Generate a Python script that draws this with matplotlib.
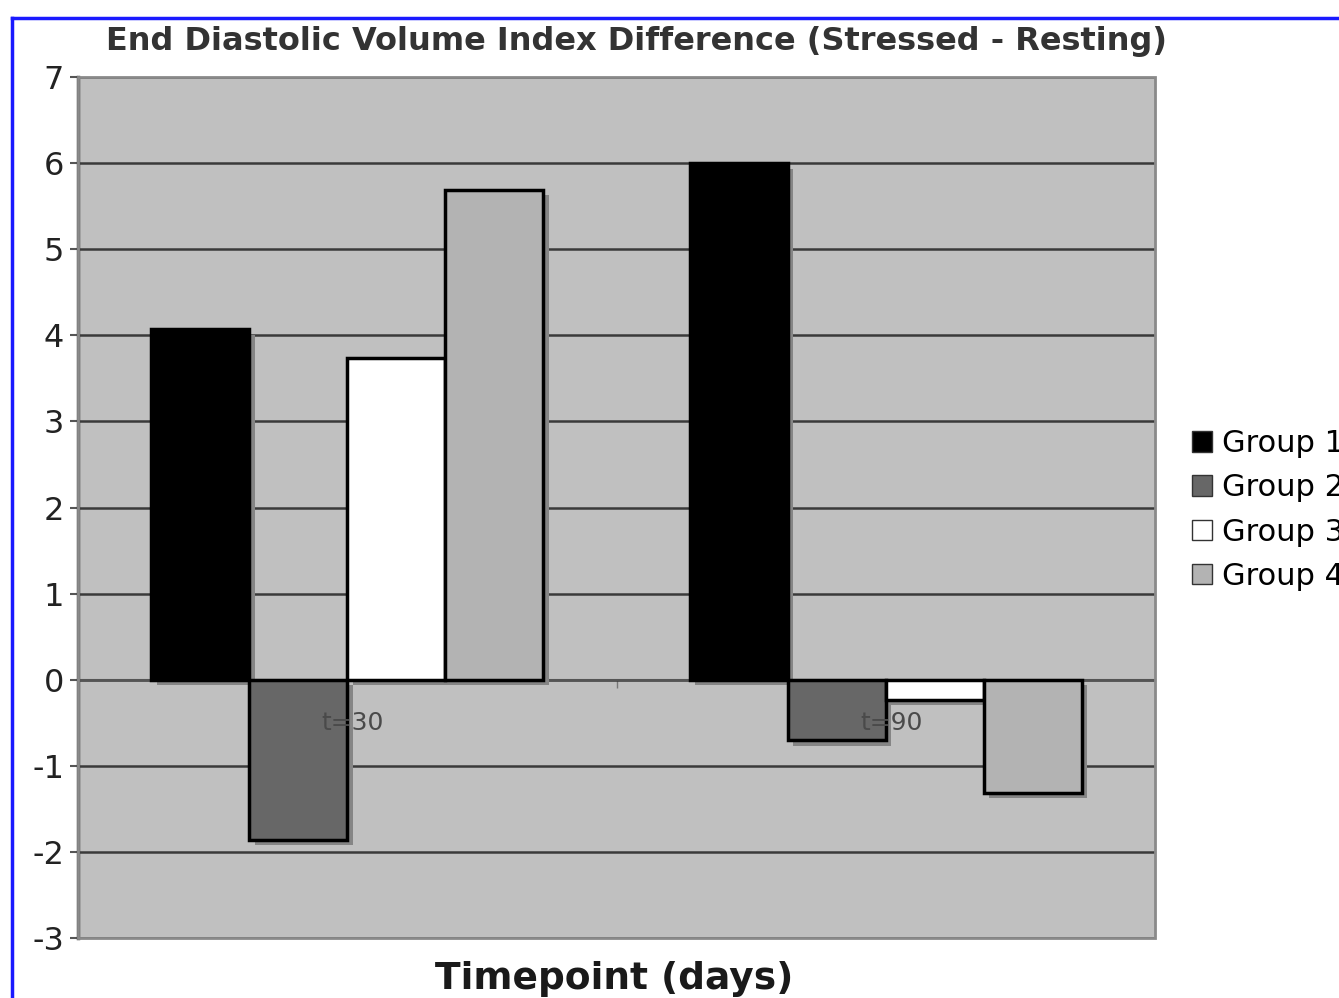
import matplotlib
matplotlib.use("Agg")
import matplotlib.pyplot as plt
import matplotlib.patheffects as pe
from matplotlib.patches import Rectangle
from matplotlib.lines import Line2D
import numpy as np

categories = ["t=30", "t=90"]
groups = ["Group 1", "Group 2", "Group 3", "Group 4"]
group1 = [4.07, 6.0]
group2 = [-1.86, -0.70]
group3 = [3.74, -0.23]
group4 = [5.69, -1.31]
series = [group1, group2, group3, group4]
colors = ["#000000", "#676767", "#ffffff", "#b3b3b3"]
yticks = [-3, -2, -1, 0, 1, 2, 3, 4, 5, 6, 7]

plt.rcParams['font.family'] = ['DejaVu Sans']

fig = plt.figure(figsize=(13.39, 9.98), dpi=100)
ax = fig.add_axes([0.0583, 0.0601, 0.8043, 0.8627])
ax.set_facecolor("#c0c0c0")

x = np.arange(len(categories))
w = 0.182
shadow = [pe.SimplePatchShadow(offset=(4.0, -4.0), shadow_rgbFace="#858585", alpha=1.0), pe.Normal()]
handles = []
for i, (vals, col, name) in enumerate(zip(series, colors, groups)):
    bars = ax.bar(x + (i - 1.5) * w, vals, width=w, color=col, edgecolor="#000000",
                  linewidth=2.5, zorder=3, label=name)
    for b in bars:
        b.set_path_effects(shadow)
    handles.append(bars)

ax.set_ylim(-3, 7)
ax.set_xlim(-0.5, 1.5)
ax.set_yticks(yticks)
ax.set_yticklabels([str(t) for t in yticks], fontsize=23, color="#222222")
ax.yaxis.grid(True, color="#3a3a3a", linewidth=1.8, zorder=1)
ax.set_axisbelow(True)

# x axis at zero
ax.spines['bottom'].set_position(('data', 0))
ax.spines['bottom'].set_color("#555555")
ax.spines['bottom'].set_linewidth(1.5)
ax.spines['top'].set_visible(False)
ax.spines['right'].set_visible(False)
ax.spines['left'].set_color("#444444")
ax.spines['left'].set_linewidth(2.5)
ax.set_xticks([0.5])
ax.set_xticklabels([""])
ax.tick_params(axis='x', length=6, width=1, color="#777777", direction='out')
ax.tick_params(axis='y', length=6, width=1.5, color="#555555", pad=4)

for xi, lab in zip(x, categories):
    ax.text(xi + 0.01, -0.5, lab, ha='center', va='center', fontsize=18,
            color="#4a4a4a", zorder=5)

# plot area border
ax.add_patch(Rectangle((0, 0), 1, 1, transform=ax.transAxes, fill=False,
                       edgecolor="#8a8a8a", linewidth=2.0, zorder=4, clip_on=False))

fig.text(0.475, 0.958, "End Diastolic Volume Index Difference (Stressed - Resting)",
         ha='center', va='center', fontsize=23, fontweight='bold', color="#333333")
fig.text(0.459, 0.019, "Timepoint (days)", ha='center', va='center',
         fontsize=27, fontweight='bold', color="#1a1a1a")

leg = fig.legend(handles=handles, labels=groups, loc='center left',
                 bbox_to_anchor=(0.881, 0.489), frameon=False, fontsize=22,
                 handlelength=0.65, handleheight=0.65, handletextpad=0.35,
                 labelspacing=0.5, borderaxespad=0)
for h in leg.legend_handles:
    h.set_path_effects([])
    h.set_linewidth(1.0)
    h.set_edgecolor("#333333")

# blue frame
fig.add_artist(Line2D([0.009, 0.009], [0.0, 0.982], transform=fig.transFigure,
                      color="#1a1aff", linewidth=2.5))
fig.add_artist(Line2D([0.009, 1.0], [0.982, 0.982], transform=fig.transFigure,
                      color="#1a1aff", linewidth=2.5))

fig.savefig("out.png", dpi=100)
